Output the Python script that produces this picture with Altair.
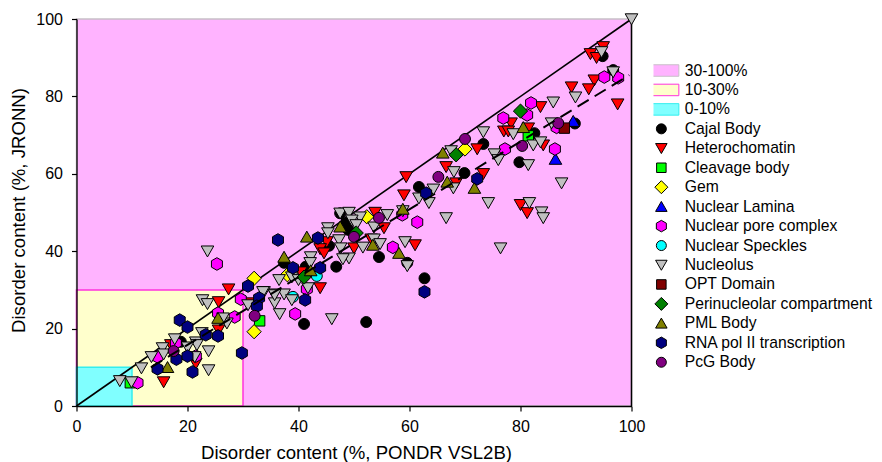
import altair as alt
import pandas as pd

cajal_x = [94.8,96.7,89.8,82.5,73.3,79.8,69.9,61.7,62.7,59.6,54.5,46.8,52.2,41,47.5,48.6,49,45.5,37.4,41.3,18.8]
cajal_y = [90.4,86.8,73,70.5,67.7,63,60.2,56.6,33,37,38.5,36,21.7,21.2,49.8,47.5,45.5,41.4,37,36,16.6]
hetero_x = [94.9,92.6,93.7,93.3,92.3,89.2,97.5,83.6,78.3,77,77.8,81.4,84.1,72.2,66.6,73.3,80,81.2,68.4,59.4,59,53.8,55.4,45.1,43.9,44.6,50,53.1,61,43.9,40.4,27.4,25.6,25.6,31,15.7,21.5,17]
hetero_y = [92.8,91,90,84.2,81.9,82.4,78,77.3,73.1,71,71,71.8,67.4,66.4,61.8,60,52,49.9,57.6,59.2,54.5,50,46,42.4,40.6,39.5,40.8,43.1,41.6,30.5,34.6,30.2,26.9,19.6,26.6,6.2,11,15.8]
cleavage_x = [33,81.4,9.7]
cleavage_y = [22,69.8,6]
gem_x = [32,32,38,52.3,70]
gem_y = [33,19.2,33.9,48.9,66.4]
lamina_x = [86.3,89.5]
lamina_y = [63.8,73.6]
pore_x = [97.6,95.1,81.9,81.2,76.9,86.5,86.2,77.2,61.4,57,58.7,39.4,41.5,25.3,29.6,25.5,28.5,14.6,17.9,21.5,11]
pore_y = [84.8,85,78.3,75.2,74.4,72,66.4,66.4,47.5,41,49.4,23.8,30.2,36.7,27.6,24,23,12.7,16.3,12.9,6]
speckle_x = [43.3,39]
speckle_y = [33.6,28.2]
nucleolus_x = [100,94.6,96.7,89.9,85.9,73.3,78.7,85.6,82.3,83.6,81.4,75.3,76,67.5,68,87.4,81.6,83.8,84.1,76.4,74.2,66.6,67.9,64.3,61.7,63.5,59.2,59.6,58.8,56,53.6,53.6,54.7,51.6,47.5,49.1,51.1,49.6,50.4,47.3,47.6,49.1,48,45.3,45.3,42.2,42.1,38.8,36.5,40,41.7,37.4,35.6,33.8,35.7,38.8,36.6,46,22.7,23.6,23.6,30.9,27.1,26.4,22.6,23.8,23.8,21.5,21.7,21.3,20,17.7,15.5,15.7,13.5,11.7,7.8,9.9,35.7,33.6]
nucleolus_y = [100,91.5,86.3,79.8,78.5,70.8,70.3,73.1,67.4,68.2,62.3,65.1,63.6,65.9,60.5,57.6,52.5,50.1,48.6,40.8,52.5,48.6,56.3,56,53.7,52.5,42.4,36.2,50.4,49.4,46.2,43.1,41.9,41,49.8,50,48.8,48,46.8,42.9,40.8,38.2,38,46,44.7,38.5,37,33.3,32.6,32.6,30.5,28.9,28.9,29.5,26.6,27.4,23.8,22.5,27.4,26.4,40,26.1,21.4,22.7,18.9,14.2,9.3,16.5,15.8,12.7,15.2,17.3,15,13.4,12.7,9.8,6.5,6.2,28.7,29.5]
opt_x = [87.9]
opt_y = [71.8]
peri_x = [80,68.4,41,50.4]
peri_y = [76.2,64.9,33.3,44.7]
pml_x = [80.5,66,71.7,66.8,58.8,58.1,53.4,47.5,41.5,37.4,42.2,25.5,16.4]
pml_y = [72,65.4,56.3,57.9,50.9,39.5,41.6,46.3,43.7,38.5,35,22.7,10]
rna_x = [72.2,63,62.7,36.3,43.5,39,43.9,41.2,18.6,20,23.3,25.5,18,20,14.6,20.9,29.8,30.9,32.9,32.5]
rna_y = [58.7,55,29.5,42.9,43.4,35.7,35.7,27.4,22.2,20.4,18.4,18.1,12.1,12.9,9.6,8.8,13.7,31,27.9,25.8]
pcg_x = [70,80.3,86.8,65.2,54.5,50,32.1,17.5]
pcg_y = [69,67.2,73.1,59.2,48.6,43.7,23.3,14.2]

series = [
    ("Cajal Body", cajal_x, cajal_y),
    ("Heterochomatin", hetero_x, hetero_y),
    ("Cleavage body", cleavage_x, cleavage_y),
    ("Gem", gem_x, gem_y),
    ("Nuclear Lamina", lamina_x, lamina_y),
    ("Nuclear pore complex", pore_x, pore_y),
    ("Nuclear Speckles", speckle_x, speckle_y),
    ("Nucleolus", nucleolus_x, nucleolus_y),
    ("OPT Domain", opt_x, opt_y),
    ("Perinucleolar compartment", peri_x, peri_y),
    ("PML Body", pml_x, pml_y),
    ("RNA pol II transcription", rna_x, rna_y),
    ("PcG Body", pcg_x, pcg_y),
]
region_names = ["30-100%", "10-30%", "0-10%"]
region_tops = [100, 30, 10]
region_fill = ["#ffb3ff", "#ffffcc", "#80ffff"]
region_stroke = ["#c8c0c8", "#ff33dd", "#33eeee"]
x_title = "Disorder content (%, PONDR VSL2B)"
y_title = "Disorder content (%, JRONN)"

rect = "M-3.5,-1.15H3.5V1.15H-3.5Z"
down = "M-1.15,-0.95L1.15,-0.95L0,1.05Z"
up = "M-1.15,0.95L1.15,0.95L0,-1.05Z"
hexa = "M0,-1.15L1,-0.58L1,0.58L0,1.15L-1,0.58L-1,-0.58Z"
diam = "M0,-1.3L1.3,0L0,1.3L-1.3,0Z"
square = "M-0.95,-0.95H0.95V0.95H-0.95Z"

names = region_names + [s[0] for s in series]
fills = region_fill + ["#000000","#ff0000","#00ff00","#ffff00","#0000ff","#ff00ff","#00ffff","#c0c0c0","#800000","#008000","#808000","#000080","#800080"]
strokes = region_stroke + ["#000000"] * 13
shapes = [rect, rect, rect, "circle", down, square, diam, up, hexa, "circle", down, square, diam, up, hexa, "circle"]

pts = pd.DataFrame(
    [{"name": n, "x": a, "y": b} for n, xv, yv in series for a, b in zip(xv, yv)]
)
pts["ord"] = range(len(pts))
regions = pd.DataFrame({"x0": [0, 0, 0], "x1": region_tops, "y0": [0, 0, 0], "y1": region_tops,
                        "fill": region_fill, "stroke": region_stroke})
xs = alt.Scale(domain=[0, 100], nice=False)
ys = alt.Scale(domain=[0, 100], nice=False)

def X(f):
    return alt.X(f, scale=xs, title=x_title)
def Y(f):
    return alt.Y(f, scale=ys, title=y_title)

axis_style = dict(values=[0, 20, 40, 60, 80, 100], grid=False, domainColor="black", tickColor="black",
                  tickSize=5, labelFontSize=16, titleFontSize=18.6, labelColor="black", titleColor="black",
                  labelFont="Liberation Sans", titleFont="Liberation Sans", titleFontWeight="normal",
                  domainWidth=1.3, tickWidth=1.2, zindex=1, labelFlush=False)

region_layer = alt.Chart(regions).mark_rect(strokeWidth=1.5).encode(
    x=alt.X("x0:Q", scale=xs, title=x_title, axis=alt.Axis(labelPadding=7, titlePadding=9, titleX=279.5, **axis_style)),
    x2="x1:Q",
    y=alt.Y("y0:Q", scale=ys, title=y_title, axis=alt.Axis(labelPadding=9, titlePadding=7, titleY=191, **axis_style)),
    y2="y1:Q",
    fill=alt.Fill("fill:N", scale=None), stroke=alt.Stroke("stroke:N", scale=None),
    order=alt.Order("x1:Q", sort="descending"),
)
edge = alt.Chart(pd.DataFrame({"x": [100], "y": [0], "y2": [100]})).mark_rule(color="black", strokeWidth=1.5).encode(
    x=X("x:Q"), y=Y("y:Q"), y2="y2:Q")

solid = alt.Chart(pd.DataFrame({"x": [0, 100], "y": [0, 100]})).mark_line(color="black", strokeWidth=1.6).encode(
    x=X("x:Q"), y=Y("y:Q"))
dashed = alt.Chart(pd.DataFrame({"x": [13.4, 99.6], "y": [10, 85.5]})).mark_line(
    color="black", strokeWidth=2, strokeDash=[13, 7]).encode(
    x=X("x:Q"), y=Y("y:Q"))

legend = alt.Legend(orient="none", legendX=577, legendY=42, title=None, labelFontSize=15.7,
                    labelFont="Liberation Sans", labelColor="black", symbolSize=100, labelOffset=15.5,
                    rowPadding=0.45, clipHeight=19, padding=0, symbolOpacity=1, symbolStrokeWidth=1, labelLimit=300)
points = alt.Chart(pts).mark_point(filled=True, opacity=1, size=120, strokeWidth=1).encode(
    x=X("x:Q"), y=Y("y:Q"),
    fill=alt.Fill("name:N", scale=alt.Scale(domain=names, range=fills), legend=legend, sort=names),
    stroke=alt.Stroke("name:N", scale=alt.Scale(domain=names, range=strokes), legend=legend, sort=names),
    shape=alt.Shape("name:N", scale=alt.Scale(domain=names, range=shapes), legend=legend, sort=names),
    order=alt.Order("ord:Q"),
)

chart = alt.layer(region_layer, edge, solid, points, dashed).properties(
    width=555, height=387, background="white",
    autosize=alt.AutoSizeParams(type="none"),
    padding={"left": 68.5, "top": 11, "right": 242.5, "bottom": 56},
).configure_view(stroke=None)

chart.save("out.html", embed_options={"renderer": "svg", "actions": False})
